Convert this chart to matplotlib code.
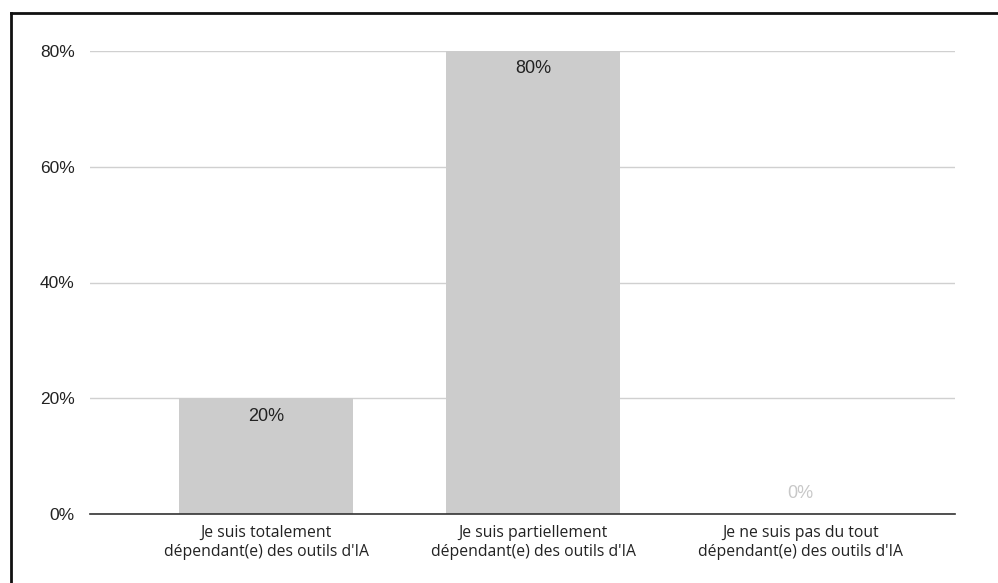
import matplotlib.pyplot as plt
from matplotlib.lines import Line2D

categories = ["Je suis totalement\ndépendant(e) des outils d'IA",
              "Je suis partiellement\ndépendant(e) des outils d'IA",
              "Je ne suis pas du tout\ndépendant(e) des outils d'IA"]
shares = [0.20, 0.80, 0.0]
yticks = [0, 0.2, 0.4, 0.6, 0.8]
ytick_labels = ['0%', '20%', '40%', '60%', '80%']

W, H = 998, 583
fig = plt.figure(figsize=(W / 100, H / 100), dpi=100)
ax = fig.add_axes([90 / W, 1 - 514 / H, (955 - 90) / W, (514 - 51) / H])

x = range(len(categories))
ax.bar(x, shares, width=0.65, color='#cccccc', zorder=2)

for xi, v in zip(x, shares):
    if v > 0:
        ax.text(xi, v - 0.016, f'{v:.0%}', ha='center', va='top',
                fontsize=13, color='#222222', family='Liberation Sans', zorder=3)
    else:
        ax.text(xi, 0.02, f'{v:.0%}', ha='center', va='bottom',
                fontsize=13, color='#c8c8c8', family='Liberation Sans', zorder=3)

ax.set_xlim(-0.66, 2.58)
ax.set_ylim(0, 0.8)
ax.set_yticks(yticks)
ax.set_yticklabels(ytick_labels, family='Liberation Sans', fontsize=12.5, color='#222222')
ax.set_xticks(list(x))
ax.set_xticklabels(categories, family='Open Sans', fontsize=11.3, color='#222222',
                   linespacing=1.2)
ax.tick_params(axis='both', length=0)
ax.tick_params(axis='y', pad=11)
ax.tick_params(axis='x', pad=8)

ax.yaxis.grid(True, color='#d0d0d0', linewidth=1, zorder=0)
ax.set_axisbelow(True)
for s in ['top', 'right', 'left']:
    ax.spines[s].set_visible(False)
ax.spines['bottom'].set_color('#333333')
ax.spines['bottom'].set_linewidth(1.2)
ax.spines['bottom'].set_zorder(4)

# page frame around the chart
fig.add_artist(Line2D([11 / W, 11 / W], [0, 1 - 13 / H], color='#111111', linewidth=2))
fig.add_artist(Line2D([11 / W, 1], [1 - 13 / H, 1 - 13 / H], color='#111111', linewidth=2))

fig.savefig('out.png', dpi=100)
